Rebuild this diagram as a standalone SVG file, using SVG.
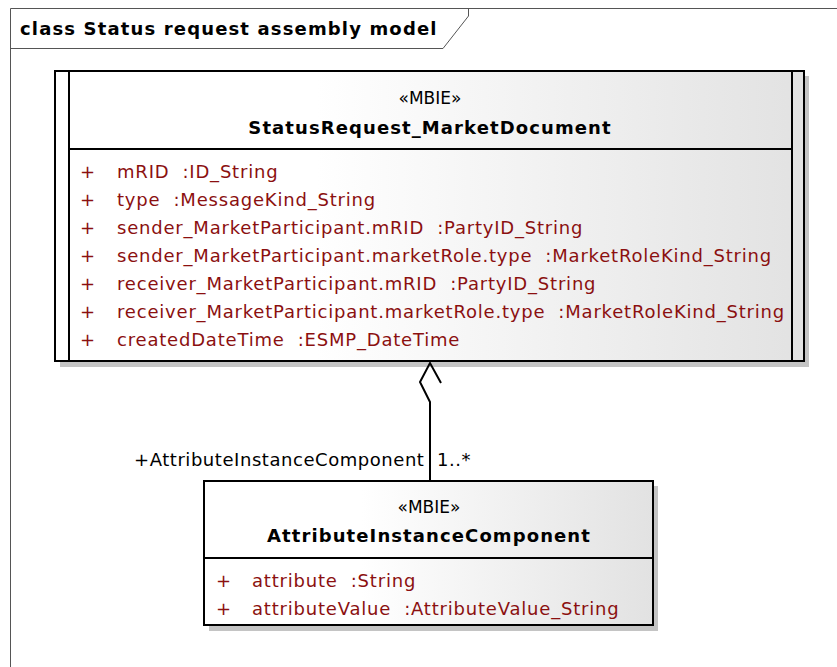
<svg xmlns="http://www.w3.org/2000/svg" width="837" height="667" viewBox="0 0 837 667">
  <defs>
    <linearGradient id="boxFill" x1="0" y1="0" x2="1" y2="0">
      <stop offset="0" stop-color="#ffffff"/>
      <stop offset="0.35" stop-color="#ffffff"/>
      <stop offset="1" stop-color="#e2e2e2"/>
    </linearGradient>
  </defs>
  <style>
    text { white-space: pre; }
    .frame { fill: none; stroke: #555; stroke-width: 1; }
    .title { font-family: "DejaVu Sans", sans-serif; font-weight: bold; font-size: 18px; letter-spacing: 1.15px; fill: #000; }
    .shadow { fill: #c4c4c4; }
    .box { fill: url(#boxFill); stroke: #000; stroke-width: 2; }
    .line { stroke: #000; stroke-width: 2; fill: none; }
    .stereo { font-family: "DejaVu Sans", sans-serif; font-size: 17px; fill: #000; text-anchor: middle; }
    .name { font-family: "DejaVu Sans", sans-serif; font-weight: bold; font-size: 18px; letter-spacing: 1.1px; fill: #000; text-anchor: middle; }
    .attr { font-family: "DejaVu Sans", sans-serif; font-size: 18px; letter-spacing: 0.8px; fill: #8b1010; }
    .label { font-family: "DejaVu Sans", sans-serif; font-size: 18px; letter-spacing: 0.55px; fill: #000; }
  </style>

  <!-- diagram frame with name tab -->
  <g id="frame">
    <rect x="0" y="0" width="837" height="667" fill="#fff"/>
    <path class="frame" d="M10.5,667 L10.5,8.5 L837,8.5"/>
    <path class="frame" d="M10.5,48.5 L443,48.5 L468.5,16 L468.5,8.5"/>
    <text class="title" x="20" y="35">class Status request assembly model</text>
  </g>

  <!-- StatusRequest_MarketDocument class -->
  <g id="StatusRequest_MarketDocument">
    <rect class="shadow" x="60" y="76" width="749" height="291"/>
    <rect class="box" x="55" y="71" width="749" height="290"/>
    <line class="line" x1="69" y1="71" x2="69" y2="361"/>
    <line class="line" x1="792" y1="71" x2="792" y2="361"/>
    <line class="line" x1="69" y1="149" x2="792" y2="149"/>
    <text class="stereo" x="430" y="104">«MBIE»</text>
    <text class="name" x="430" y="134">StatusRequest_MarketDocument</text>
    <text class="attr" x="80" y="178">+</text>
    <text class="attr" x="117" y="178">mRID  :ID_String</text>
    <text class="attr" x="80" y="206">+</text>
    <text class="attr" x="117" y="206">type  :MessageKind_String</text>
    <text class="attr" x="80" y="234">+</text>
    <text class="attr" x="117" y="234">sender_MarketParticipant.mRID  :PartyID_String</text>
    <text class="attr" x="80" y="262">+</text>
    <text class="attr" x="117" y="262">sender_MarketParticipant.marketRole.type  :MarketRoleKind_String</text>
    <text class="attr" x="80" y="290">+</text>
    <text class="attr" x="117" y="290">receiver_MarketParticipant.mRID  :PartyID_String</text>
    <text class="attr" x="80" y="318">+</text>
    <text class="attr" x="117" y="318">receiver_MarketParticipant.marketRole.type  :MarketRoleKind_String</text>
    <text class="attr" x="80" y="346">+</text>
    <text class="attr" x="117" y="346">createdDateTime  :ESMP_DateTime</text>
  </g>

  <!-- AttributeInstanceComponent class -->
  <g id="AttributeInstanceComponent">
    <rect class="shadow" x="209" y="486" width="449" height="145"/>
    <rect class="box" x="204" y="481" width="449" height="144"/>
    <line class="line" x1="204" y1="558" x2="653" y2="558"/>
    <text class="stereo" x="429" y="513">«MBIE»</text>
    <text class="name" x="429" y="542">AttributeInstanceComponent</text>
    <text class="attr" x="216" y="587">+</text>
    <text class="attr" x="252" y="587">attribute  :String</text>
    <text class="attr" x="216" y="615">+</text>
    <text class="attr" x="252" y="615">attributeValue  :AttributeValue_String</text>
  </g>

  <!-- aggregation connector -->
  <g id="connectors">
    <path class="line" d="M430,480 L430,402 L420,382 L430,363 L441,383"/>
    <text class="label" x="134" y="466">+AttributeInstanceComponent</text>
    <text class="label" x="437" y="466">1..*</text>
  </g>
</svg>
